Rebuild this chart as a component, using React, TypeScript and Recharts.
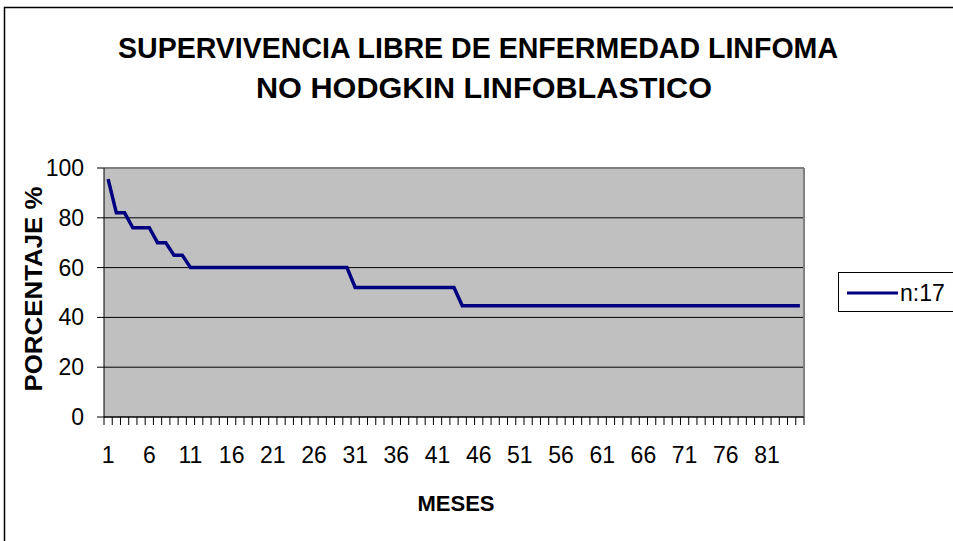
import React from 'react';
import { LineChart, Line, XAxis, YAxis, CartesianGrid, ReferenceLine, Legend } from 'recharts';

// Months (categories) 1..85
const meses: number[] = Array.from({ length: 85 }, (_, i) => i + 1);

// Disease-free survival (%) per month
const supervivencia: number[] = [
  95.5,
  82, 82,
  76, 76, 76,
  70, 70,
  65, 65,
  60, 60, 60, 60, 60, 60, 60, 60, 60, 60,
  60, 60, 60, 60, 60, 60, 60, 60, 60, 60,
  52, 52, 52, 52, 52, 52, 52, 52, 52, 52, 52, 52, 52,
  44.7, 44.7, 44.7, 44.7, 44.7, 44.7, 44.7, 44.7, 44.7, 44.7,
  44.7, 44.7, 44.7, 44.7, 44.7, 44.7, 44.7, 44.7, 44.7, 44.7,
  44.7, 44.7, 44.7, 44.7, 44.7, 44.7, 44.7, 44.7, 44.7, 44.7,
  44.7, 44.7, 44.7, 44.7, 44.7, 44.7, 44.7, 44.7, 44.7, 44.7,
  44.7, 44.7,
];

const etiquetasX: number[] = [1, 6, 11, 16, 21, 26, 31, 36, 41, 46, 51, 56, 61, 66, 71, 76, 81];
const ticksY: number[] = [0, 20, 40, 60, 80, 100];
const bordesX: number[] = Array.from({ length: 86 }, (_, i) => i + 0.5);

const serieNombre = 'n:17';
const titulo1 = 'SUPERVIVENCIA LIBRE DE ENFERMEDAD LINFOMA';
const titulo2 = 'NO HODGKIN LINFOBLASTICO';
const tituloY = 'PORCENTAJE %';
const tituloX = 'MESES';

const data = meses.map((m, i) => ({ mes: m, sv: supervivencia[i] }));

const FONT = '"Liberation Sans", Arial, sans-serif';

const EmptyTick = () => <g />;

const XLabelTick = (p: any) => (
  <text x={p.x} y={p.y} textAnchor="middle" fontSize={23} fontFamily={FONT} fill="#000">
    {p.payload.value}
  </text>
);

const YLabelTick = (p: any) => (
  <text x={p.x} y={p.y + 8} textAnchor="end" fontSize={23} fontFamily={FONT} fill="#000">
    {p.payload.value}
  </text>
);

const renderLegend = (props: any) => {
  const item = (props.payload && props.payload[0]) || { value: serieNombre, color: '#000080' };
  return (
    <div
      style={{
        width: 115,
        height: 40,
        boxSizing: 'border-box',
        borderLeft: '1px solid #000',
        borderTop: '1px solid #000',
        borderBottom: '1px solid #000',
        background: '#fff',
        position: 'relative',
      }}
    >
      <svg width={115} height={38} style={{ position: 'absolute', left: 0, top: 0 }}>
        <line x1={8} x2={59} y1={20} y2={20} stroke={item.color} strokeWidth={3} />
        <text x={61} y={28} fontSize={23} fontFamily={FONT} fill="#000">
          {item.value}
        </text>
      </svg>
    </div>
  );
};

export default function App() {
  return (
    <div
      style={{
        position: 'absolute',
        left: 0,
        top: 0,
        width: 953,
        height: 541,
        overflow: 'hidden',
        background: '#fff',
        fontFamily: FONT,
      }}
    >
      <LineChart
        width={953}
        height={541}
        data={data}
        margin={{ top: 168, right: 149, bottom: 63, left: 0 }}
        style={{ fontFamily: FONT }}
      >
        <CartesianGrid vertical={false} stroke="#000" strokeOpacity={1} fill="#C0C0C0" fillOpacity={1} />
        <XAxis
          xAxisId={0}
          type="number"
          dataKey="mes"
          domain={[0.5, 85.5]}
          allowDataOverflow
          ticks={bordesX}
          interval={0}
          tick={EmptyTick}
          tickSize={8}
          tickMargin={0}
          height={1}
          axisLine={{ stroke: '#000', strokeWidth: 1 }}
          tickLine={{ stroke: '#000', strokeWidth: 1 }}
        />
        <XAxis
          xAxisId="lbl"
          type="number"
          dataKey="mes"
          domain={[0.5, 85.5]}
          allowDataOverflow
          ticks={etiquetasX}
          interval={0}
          tickLine={false}
          axisLine={false}
          tickSize={0}
          tickMargin={45}
          height={60}
          tick={XLabelTick}
        />
        <YAxis
          type="number"
          domain={[0, 100]}
          ticks={ticksY}
          interval={0}
          width={104}
          tickSize={7}
          tickMargin={13}
          axisLine={{ stroke: '#000', strokeWidth: 1 }}
          tickLine={{ stroke: '#000', strokeWidth: 1 }}
          tick={YLabelTick}
        />
        <ReferenceLine y={100} stroke="#808080" strokeWidth={2} ifOverflow="visible" />
        <ReferenceLine x={85.5} stroke="#808080" strokeWidth={2} ifOverflow="visible" />
        <Legend
          layout="vertical"
          align="center"
          verticalAlign="middle"
          content={renderLegend}
          wrapperStyle={{ left: 838, top: 272, width: 115, height: 40 }}
        />
        <Line
          type="linear"
          dataKey="sv"
          name={serieNombre}
          stroke="#000080"
          strokeWidth={3.5}
          dot={false}
          activeDot={false}
          isAnimationActive={false}
        />
      </LineChart>
      <svg
        width={953}
        height={541}
        style={{ position: 'absolute', left: 0, top: 0, pointerEvents: 'none' }}
      >
        <rect x={4.5} y={7.5} width={1000} height={1000} fill="none" stroke="#000" strokeWidth={1.5} />
        <text
          x={478}
          y={58}
          textAnchor="middle"
          fontSize={29}
          fontWeight="bold"
          fontFamily={FONT}
          fill="#000"
          textLength={720}
          lengthAdjust="spacingAndGlyphs"
        >
          {titulo1}
        </text>
        <text
          x={484}
          y={98}
          textAnchor="middle"
          fontSize={29}
          fontWeight="bold"
          fontFamily={FONT}
          fill="#000"
          textLength={456}
          lengthAdjust="spacingAndGlyphs"
        >
          {titulo2}
        </text>
        <text
          x={0}
          y={0}
          transform="translate(42,289) rotate(-90)"
          textAnchor="middle"
          fontSize={24}
          fontWeight="bold"
          fontFamily={FONT}
          fill="#000"
          textLength={205}
          lengthAdjust="spacingAndGlyphs"
        >
          {tituloY}
        </text>
        <text x={456} y={511} textAnchor="middle" fontSize={22} fontWeight="bold" fontFamily={FONT} fill="#000">
          {tituloX}
        </text>
      </svg>
    </div>
  );
}
